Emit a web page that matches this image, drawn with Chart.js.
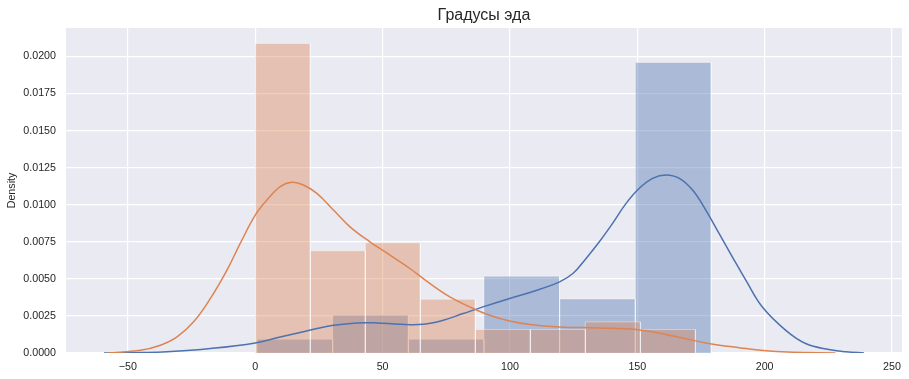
<!DOCTYPE html>
<html>
<head>
<meta charset="utf-8">
<script src="https://cdn.jsdelivr.net/npm/chart.js@4.4.1/dist/chart.umd.min.js"></script>
<style>
  body { margin: 0; background: #fff; }
  #wrap { width: 909px; height: 379px; }
</style>
</head>
<body>
<div id="wrap"><canvas id="degChart"></canvas></div>
<script>
// histogram bins (bin edges + density per bin)
const blueEdges = [0.7, 30.4, 60.1, 89.8, 119.5, 149.2, 179.0];
const blueDensity = [0.00093, 0.00255, 0.00093, 0.00518, 0.00365, 0.0196];
const orangeEdges = [0, 21.6, 43.2, 64.8, 86.4, 108.0, 129.6, 151.2, 172.8];
const orangeDensity = [0.02088, 0.00689, 0.00743, 0.00363, 0.00158, 0.00158, 0.0021, 0.00158];

// kde curves
const blueKdeX = [-59.4, -45, -34.6, -17.6, 0, 9.8, 17.6, 24.2, 30.7, 39.8, 47.7, 56.8, 65.9, 73.8, 81.6, 89.4, 99.9, 110, 119.5, 124.7, 129.9, 135.1, 140.3, 145.6, 150.8, 156, 161.3, 166.5, 171.7, 176.9, 182.1, 187.3, 192.6, 199.1, 208.3, 216.1, 225.2, 232, 239];
const blueKdeY = [0, 0.00003, 0.00008, 0.0003, 0.00068, 0.00108, 0.00138, 0.00165, 0.00187, 0.00203, 0.00203, 0.00194, 0.00194, 0.00221, 0.00266, 0.00311, 0.00368, 0.0042, 0.0048, 0.00536, 0.00638, 0.0075, 0.00874, 0.01009, 0.01111, 0.01178, 0.01201, 0.01178, 0.01099, 0.00964, 0.00807, 0.00649, 0.00491, 0.0031, 0.00153, 0.00064, 0.00023, 0.00008, 0];
const orangeKdeX = [-58, -45, -37.2, -30.7, -24.2, -17.6, -11.1, -5.9, 0, 4.6, 9.8, 14.4, 18.9, 24.2, 30.7, 37.2, 45, 52.9, 60.7, 68.5, 76.4, 84.2, 92, 99.9, 108, 119.5, 135.1, 149.5, 162.6, 176.9, 190, 203, 215, 227.8];
const orangeKdeY = [0, 0.00018, 0.00052, 0.00108, 0.0021, 0.00368, 0.00559, 0.00739, 0.0093, 0.01032, 0.01122, 0.01151, 0.01133, 0.01077, 0.00964, 0.00851, 0.0075, 0.0066, 0.0057, 0.00469, 0.00378, 0.00311, 0.00255, 0.00216, 0.00192, 0.00176, 0.00169, 0.00158, 0.0012, 0.00068, 0.00036, 0.00011, 0.00004, 0];

const xTicks = [-50, 0, 50, 100, 150, 200, 250];
const yTicks = [0, 0.0025, 0.005, 0.0075, 0.01, 0.0125, 0.015, 0.0175, 0.02];

const BLUE = '#4c72b0';
const ORANGE = '#dd8452';
const TXT = '#262626';
const FONT = 'Liberation Sans, Arial, sans-serif';

function binDatasets(edges, dens, fillColor, order) {
  return dens.map((h, i) => ({
    data: [
      { x: edges[i], y: 0 }, { x: edges[i], y: h },
      { x: edges[i + 1], y: h }, { x: edges[i + 1], y: 0 }
    ],
    fill: 'origin',
    backgroundColor: fillColor,
    borderColor: 'rgba(255,255,255,0.4)',
    borderWidth: 1,
    pointRadius: 0,
    tension: 0,
    order
  }));
}

function kdeDataset(xs, ys, color, order) {
  return {
    data: xs.map((x, i) => ({ x, y: ys[i] })),
    borderColor: color,
    borderWidth: 1.5,
    pointRadius: 0,
    fill: false,
    tension: 0.4,
    order
  };
}

const plotBg = {
  id: 'plotBg',
  beforeDraw(chart) {
    const { ctx, chartArea: a } = chart;
    ctx.save();
    ctx.fillStyle = '#eaeaf2';
    ctx.fillRect(a.left, a.top, a.right - a.left, a.bottom - a.top);
    ctx.restore();
  }
};

// lines sit above all bars, orange above blue
const datasets = [
  kdeDataset(orangeKdeX, orangeKdeY, ORANGE, 1),
  kdeDataset(blueKdeX, blueKdeY, BLUE, 2),
  ...binDatasets(orangeEdges, orangeDensity, 'rgba(221,132,82,0.4)', 3),
  ...binDatasets(blueEdges, blueDensity, 'rgba(76,114,176,0.4)', 4)
];

new Chart(document.getElementById('degChart'), {
  type: 'line',
  data: { datasets },
  options: {
    responsive: true,
    maintainAspectRatio: false,
    animation: false,
    layout: { padding: { left: 0, right: 7, top: 0, bottom: 0 } },
    plugins: {
      legend: { display: false },
      tooltip: { enabled: false },
      title: {
        display: true,
        text: 'Градусы эда',
        fullSize: false,
        color: TXT,
        font: { family: FONT, size: 16, weight: 'normal' },
        padding: { top: 6, bottom: 2.8 }
      }
    },
    scales: {
      x: {
        type: 'linear',
        min: -74.3,
        max: 253.9,
        afterBuildTicks: s => { s.ticks = xTicks.map(v => ({ value: v })); },
        afterFit: s => { s.height = 26; },
        grid: { color: '#ffffff', lineWidth: 1.2, drawTicks: false },
        border: { display: false },
        ticks: {
          color: TXT,
          padding: 8,
          maxRotation: 0,
          font: { family: FONT, size: 10.7 },
          callback: v => String(v).replace('-', '\u2212')
        }
      },
      y: {
        min: 0,
        max: 0.02192,
        afterBuildTicks: s => { s.ticks = yTicks.map(v => ({ value: v })); },
        afterFit: s => { s.width = 66; },
        grid: { color: '#ffffff', lineWidth: 1.2, drawTicks: false },
        border: { display: false },
        title: {
          display: true,
          text: 'Density',
          color: TXT,
          font: { family: FONT, size: 10.7 },
          padding: { top: 6, bottom: 0 }
        },
        ticks: {
          color: TXT,
          padding: 10,
          font: { family: FONT, size: 10.7 },
          callback: v => v.toFixed(4)
        }
      }
    }
  },
  plugins: [plotBg]
});
</script>
</body>
</html>
